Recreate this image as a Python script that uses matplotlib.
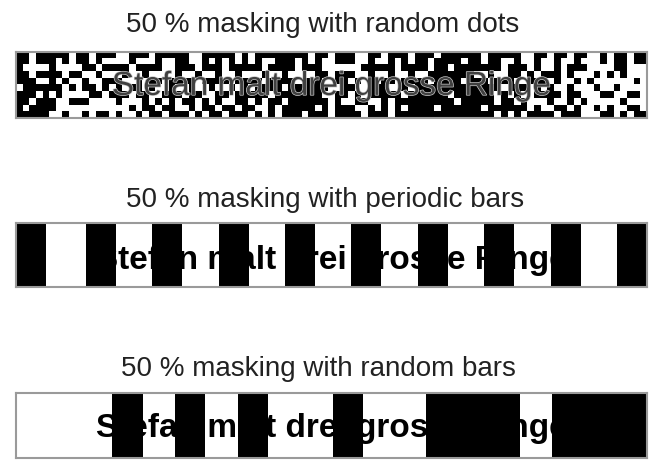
import matplotlib.pyplot as plt
import matplotlib.patheffects as pe
import numpy as np

plt.rcParams['font.family'] = ['Liberation Sans', 'DejaVu Sans']

# === DATA ===
sentence = "Stefan malt drei grosse Ringe"
titles = ["50 % masking with random dots",
          "50 % masking with periodic bars",
          "50 % masking with random bars"]

box_width = 630  # strip width in pixel-like units

# periodic bars: left edges, common width
periodic_starts = [0, 70, 136, 203, 269, 334, 401, 467, 534, 600]
periodic_width = 30

# random bars: (left, width)
random_bars = [(96, 31), (159, 30), (222, 30), (316, 30), (409, 94), (535, 95)]

# random dots mask, '#' = black cell, top row first (groups of 5 cells)
dot_rows = [
    "##.## ###.# #.### ..### .#### #..## ###.# .#### ####. ##.## #..## .###. ###.# ##### .#### #..## .##.# #..#. ##.##",
    "##.## #.#.# #.#.. ..#.. .#..# #..#. #.#.# .#..# ##.#. #..## #..#. .#.#. ##.## ##.## .##.. #..#. .#..# ...#. ##.##",
    "#.... #.... ##.## ##.## ##..# ##.## #.### ##.## ##.## #.... ..### ##.## ##.## .#### ###.# ##.#. .#.## #.... ##...",
    "##.## ##.## ..#.. .#..# ....# ..#.. #..#. ..#.. #.... ##.## #..#. .#..# ..### ####. .#..# #.#.# ##.#. ..#.# .#...",
    "###.. #.#.. #..## #..#. ##.## ##.## ##.## ##.## ##.## #..## .#.#. ##.## ##.## ##.## #.### ..### .#..# .#... ...#.",
    ".#### ##.#. ##.#. #.##. #..#. .#..# ..#.# .#### .#### ##..# #..## #..#. ##### ##### ###.# ##.#. #..#. ..#.. #....",
    "###.# .#... .##.# ##.## ..### .##.. ##.## ###.# ##### #..## .#.## ###.# ##### .#### ##.#. #..## ##.## ...## ..##.",
    "##.## #..## #.... #...# .#.#. ##.#. #..## .#.## .#### ##.#. .##.. #.### ##### #.### ##.## .#... #..#. #.... .#...",
    "#.### #.... ..... ..#.# #.##. .#.## .##.# #..#. ##### .#.## #..#. #.#.# ###.# ##### .#### ##.#. .##.# ..#.# ..##.",
    "##### ..#.. #.##. #..#. ##.## #.#.# #.### .#.#. ###.# ##.## ##.## #.### ##### ##### ##.#. #.### #.### ...## .#.##",
]

# === LAYOUT (figure fractions) ===
fig = plt.figure(figsize=(6.54, 4.73), dpi=100)
W, H = 654, 473
boxes = [(16, 52, 631, 66), (16, 223, 631, 64), (16, 393, 631, 65)]
title_y = [25, 200, 369]
title_x = [323, 325, 318]
baseline = [0.35, 0.28, 0.32]

axes = []
for (x0, y0, w, h) in boxes:
    ax = fig.add_axes([x0 / W, 1 - (y0 + h) / H, w / W, h / H])
    ax.set_xlim(0, box_width)
    ax.set_ylim(0, 1)
    ax.set_xticks([])
    ax.set_yticks([])
    for s in ax.spines.values():
        s.set_color("#9a9a9a")
        s.set_linewidth(1.5)
    axes.append(ax)

for i, t in enumerate(titles):
    fig.text(title_x[i] / W, 1 - title_y[i] / H, t, ha="center", va="center",
             fontsize=20, color="#222222")

# --- panel 1: random dots ---
rows = [r.replace(" ", "") for r in dot_rows]
ncol = max(len(r) for r in rows)
grid = np.array([[1 if c == "#" else 0 for c in r.ljust(ncol, ".")] for r in rows])
axes[0].imshow(grid, cmap="gray_r", vmin=0, vmax=1, interpolation="nearest",
               extent=[0, box_width, 0, 1], aspect="auto")
axes[0].text(box_width / 2, baseline[0], sentence, ha="center", va="baseline",
             fontsize=24, color="#404040",
             path_effects=[pe.withStroke(linewidth=1.0, foreground="#c8c8c8")])

# --- panel 2: periodic bars ---
axes[1].text(box_width / 2, baseline[1], sentence, ha="center", va="baseline",
             fontsize=24, fontweight="bold", color="black", zorder=0.5)
axes[1].bar(periodic_starts, 1, width=periodic_width, align="edge", color="black")

# --- panel 3: random bars ---
axes[2].text(box_width / 2, baseline[2], sentence, ha="center", va="baseline",
             fontsize=24, fontweight="bold", color="black", zorder=0.5)
axes[2].bar([b[0] for b in random_bars], 1, width=[b[1] for b in random_bars],
            align="edge", color="black")

fig.savefig("out.png", dpi=100)
